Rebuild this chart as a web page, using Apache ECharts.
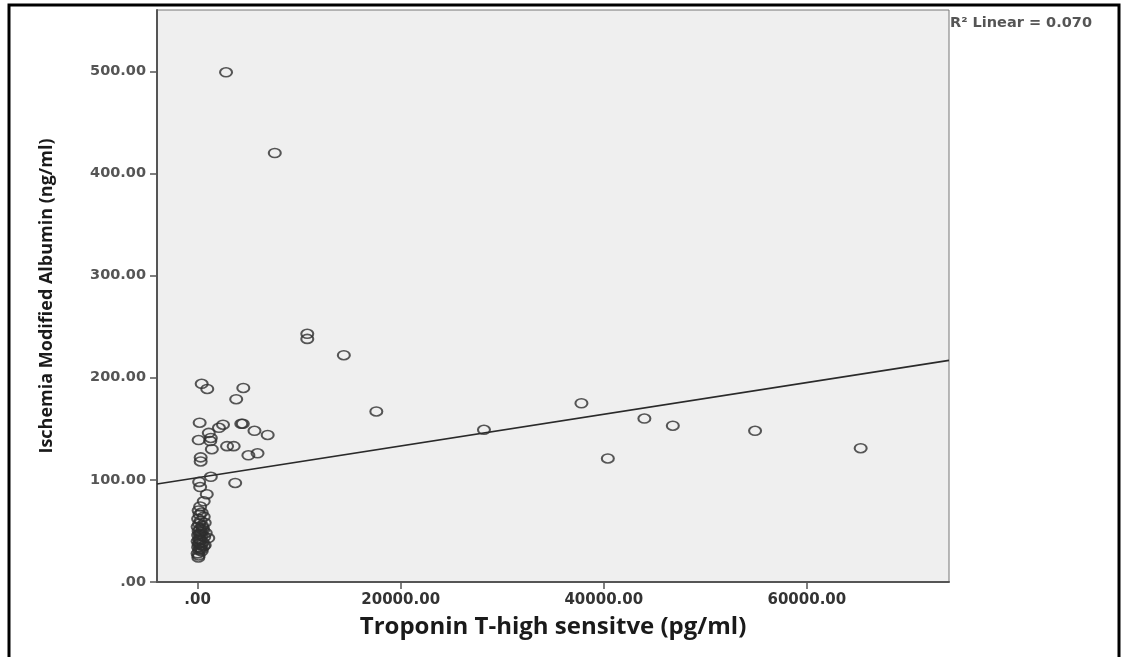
<!DOCTYPE html>
<html>
<head>
<meta charset="utf-8">
<script src="https://cdn.jsdelivr.net/npm/echarts@6/dist/echarts.min.js"></script>
<style>
html,body{margin:0;padding:0;background:#fff;}
#chart{width:1125px;height:657px;}
</style>
</head>
<body>
<div id="chart"></div>
<script>
// Troponin T-high sensitive (pg/ml)
const troponin = [
  2800, 7600, 10800, 10800, 14400, 17600, 28200, 37800, 40400, 44000, 46800, 54900, 65300,
  400, 950, 4500, 3800,
  200, 2500, 2100, 4300, 4450,
  1100, 5600, 6900,
  100, 1250, 1300,
  1400, 2900, 3550,
  5000, 5900,
  300, 300,
  1300, 150, 3700, 250, 900, 600, 250,
  100, 400, 200, 600, 50, 300, 700, 150, 450, 0, 250, 550, 100, 350, 800, 200, 50, 400,
  650, 1050, 150, 300, 0, 500, 200, 100, 350, 600, 50, 250, 150, 400, 0, 100, 70,
  500, 300, 200, 700, 400
];
// Ischemia Modified Albumin (ng/ml)
const ima = [
  499, 420, 243, 238, 222, 167, 149, 175, 121, 160, 153, 148, 131,
  194, 189, 190, 179,
  156, 154, 151, 155, 155,
  146, 148, 144,
  139, 138, 141,
  130, 133, 133,
  124, 126,
  122, 118,
  103, 98, 97, 93, 86, 79, 74,
  70, 68, 66, 64, 62, 60, 58, 57, 55, 54, 52, 51, 50, 49, 48, 47, 46, 45,
  44, 43, 42, 41, 40, 39, 38, 37, 36, 35, 34, 33, 31, 30, 28, 26, 24,
  53, 47, 41, 36, 32
];
// Linear fit line endpoints
const fitX = [-4000, 74000];
const fitY = [96, 217];
const xTicks = [0, 20000, 40000, 60000];
const yTicks = [0, 100, 200, 300, 400, 500];
const rSquaredText = 'R² Linear = 0.070';

const points = troponin.map((x, i) => [x, ima[i]]);
const fitLine = fitX.map((x, i) => [x, fitY[i]]);
const fmt = v => (v === 0 ? '.00' : v.toFixed(2));

const chart = echarts.init(document.getElementById('chart'));
chart.setOption({
  animation: false,
  backgroundColor: '#ffffff',
  grid: {
    left: 157, top: 10, width: 792, height: 572,
    show: true, backgroundColor: '#efefef', borderColor: '#777', borderWidth: 1
  },
  xAxis: {
    type: 'value', min: -4000, max: 74000,
    splitLine: { show: false },
    axisLine: { onZero: false, lineStyle: { color: '#555', width: 2 } },
    axisTick: { customValues: xTicks, length: 7, lineStyle: { color: '#555', width: 1.5 } },
    axisLabel: { customValues: xTicks, formatter: fmt, color: '#333', fontSize: 15, fontWeight: 'bold', fontFamily: 'DejaVu Sans', margin: 11 },
    name: 'Troponin T-high sensitve (pg/ml)',
    nameLocation: 'middle', nameGap: 33,
    nameTextStyle: { fontSize: 24, fontWeight: 'bold', color: '#1a1a1a', fontFamily: 'Open Sans' }
  },
  yAxis: {
    type: 'value', min: 0, max: 560,
    splitLine: { show: false },
    axisLine: { onZero: false, lineStyle: { color: '#555', width: 2 } },
    axisTick: { customValues: yTicks, length: 7, lineStyle: { color: '#555', width: 1.5 } },
    axisLabel: { customValues: yTicks, formatter: fmt, color: '#555', fontSize: 14.5, fontWeight: 'bold', fontFamily: 'DejaVu Sans', margin: 11 },
    name: 'Ischemia Modified Albumin (ng/ml)',
    nameLocation: 'middle', nameGap: 101, nameRotate: 90,
    nameTextStyle: { fontSize: 18, fontWeight: 'bold', color: '#1a1a1a', fontFamily: 'Open Sans' }
  },
  series: [
    {
      type: 'line', data: fitLine, symbol: 'none', silent: true,
      lineStyle: { color: '#2a2a2a', width: 1.6 }, z: 2
    },
    {
      type: 'scatter', data: points, symbol: 'circle', symbolSize: [12, 9],
      itemStyle: { color: 'rgba(0,0,0,0)', borderColor: '#2e2e2e', borderWidth: 1.8 }, z: 3
    }
  ],
  graphic: [
    { type: 'text', left: 950, top: 16, style: { text: rSquaredText, fill: '#555', font: 'bold 14.5px "DejaVu Sans"' } },
    { type: 'rect', shape: { x: 9, y: 5, width: 1110, height: 670 }, style: { fill: 'none', stroke: '#000', lineWidth: 3 }, silent: true }
  ]
});
</script>
</body>
</html>
